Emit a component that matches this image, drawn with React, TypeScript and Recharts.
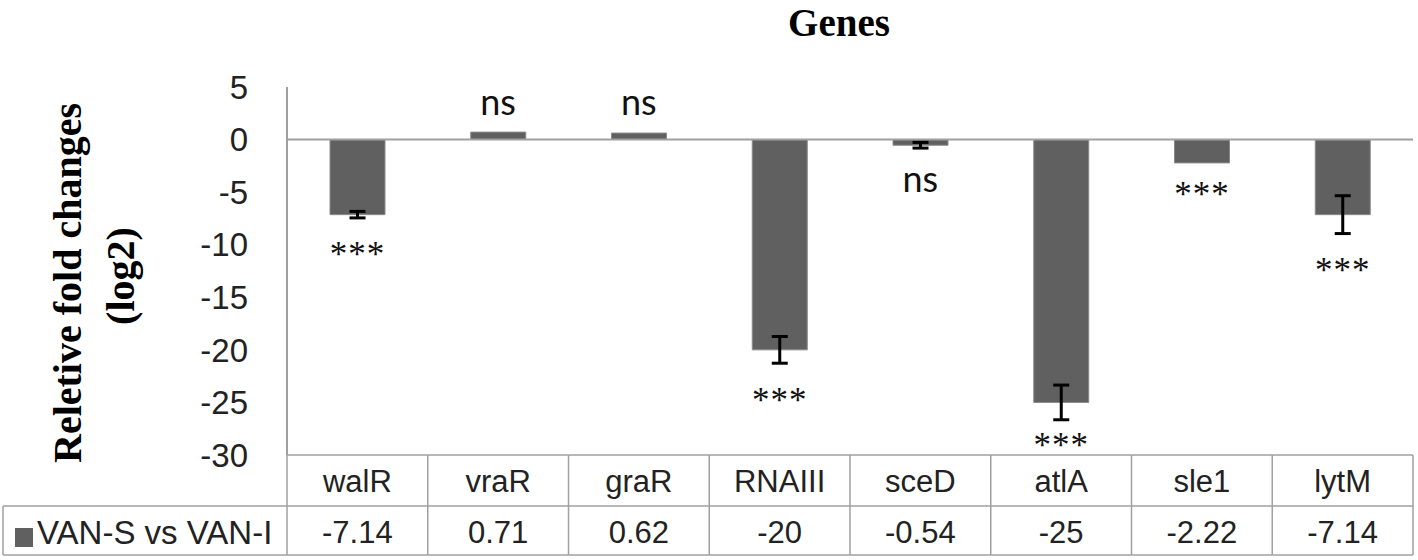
import { ComposedChart, Bar, Line, XAxis, YAxis, ErrorBar, LabelList, ReferenceLine, Customized } from 'recharts';

// gene expression, VAN-S vs VAN-I
const genes = ['walR', 'vraR', 'graR', 'RNAIII', 'sceD', 'atlA', 'sle1', 'lytM'];
const foldChange = [-7.14, 0.71, 0.62, -20, -0.54, -25, -2.22, -7.14];
const errors = [0.31, 0, 0, 1.27, 0.27, 1.65, 0, 1.8];
const sigLabels = ['***', 'ns', 'ns', '***', 'ns', '***', '***', '***'];
// where the significance marks sit (in axis units)
const sigAt = [-10.5, 3.24, 3.24, -24.4, -4.1, -28.65, -4.76, -12.06];
const yTicks = [5, 0, -5, -10, -15, -20, -25, -30];

const seriesName = 'VAN-S vs VAN-I';

const data = genes.map((g, i) => ({
  gene: g,
  value: foldChange[i],
  err: errors[i],
  sig: sigLabels[i],
  sigAt: sigAt[i],
}));

const W = 1418;
const H = 560;
const PLOT_LEFT = 287;
const PLOT_RIGHT = 1413;
const BAND = (PLOT_RIGHT - PLOT_LEFT) / genes.length;
const GRID = '#a0a0a0';
const BAR = '#606060';

const TableTick = (props: any) => {
  const { x, y, payload, index } = props;
  const half = BAND / 2;
  const left = x - half;
  const right = x + half;
  const mid = y + 51;
  const bottom = y + 100;
  return (
    <g>
      <line x1={left} y1={y} x2={right} y2={y} stroke={GRID} strokeWidth={1.5} />
      <line x1={left} y1={mid} x2={right} y2={mid} stroke={GRID} strokeWidth={1.5} />
      <line x1={left} y1={bottom} x2={right} y2={bottom} stroke={GRID} strokeWidth={1.5} />
      <line x1={right} y1={y} x2={right} y2={bottom} stroke={GRID} strokeWidth={1.5} />
      {index === 0 && (
        <g>
          <line x1={left} y1={y} x2={left} y2={bottom} stroke={GRID} strokeWidth={1.5} />
          <line x1={3} y1={mid} x2={left} y2={mid} stroke={GRID} strokeWidth={1.5} />
          <line x1={3} y1={bottom} x2={left} y2={bottom} stroke={GRID} strokeWidth={1.5} />
          <line x1={3} y1={mid} x2={3} y2={bottom} stroke={GRID} strokeWidth={1.5} />
          <rect x={15} y={mid + 22} width={18} height={19} fill={BAR} />
          <text x={37} y={mid + 26} dominantBaseline="central" fontFamily="'Liberation Sans', Arial" fontSize={33} fill="#222">
            {seriesName}
          </text>
        </g>
      )}
      <text x={x} y={y + 26} textAnchor="middle" dominantBaseline="central" fontFamily="'Liberation Sans', Arial" fontSize={31} fill="#222">
        {payload.value}
      </text>
      <text x={x} y={mid + 26} textAnchor="middle" dominantBaseline="central" fontFamily="'Liberation Sans', Arial" fontSize={31} fill="#222">
        {String(foldChange[index])}
      </text>
    </g>
  );
};

const renderSig = (props: any) => {
  const { x, y, value } = props;
  if (value === 'ns') {
    return (
      <text x={x} y={y + 9} textAnchor="middle" fontFamily="Lato, 'Open Sans', sans-serif" fontSize={36} fill="#111">
        {value}
      </text>
    );
  }
  return (
    <text x={x} y={y + 16} textAnchor="middle" fontFamily="'Liberation Serif', serif" fontSize={35} fill="#111" letterSpacing={1}>
      {value}
    </text>
  );
};

const yLabel = () => (
  <g fontFamily="'Liberation Serif', 'Times New Roman', serif" fontWeight="bold" fontSize={40} fill="#000">
    <text x={67} y={283} transform="rotate(-90 67 283)" textAnchor="middle" dominantBaseline="central">
      Reletive fold changes
    </text>
    <text x={120} y={276} transform="rotate(-90 120 276)" textAnchor="middle" dominantBaseline="central">
      (log2)
    </text>
  </g>
);

const Title = () => (
  <text x={839} y={22} textAnchor="middle" dominantBaseline="central" fontFamily="'Liberation Serif', 'Times New Roman', serif" fontWeight="bold" fontSize={39} fill="#000">
    Genes
  </text>
);

export default function App() {
  return (
    <div style={{ position: 'absolute', left: 0, top: 0, background: '#fff' }}>
      <ComposedChart width={W} height={H} data={data} margin={{ top: 87, right: W - PLOT_RIGHT, bottom: 5, left: 0 }}>
        <XAxis
          dataKey="gene"
          height={100}
          axisLine={false}
          tickLine={false}
          tickSize={0}
          tickMargin={0}
          interval={0}
          tick={<TableTick />}
        />
        <YAxis
          width={PLOT_LEFT}
          domain={[-30, 5]}
          ticks={yTicks}
          interval={0}
          tickLine={false}
          tickSize={0}
          tickMargin={39}
          axisLine={{ stroke: GRID, strokeWidth: 2 }}
          tick={{ fontFamily: "'Liberation Sans', Arial", fontSize: 33, fill: '#222' }}
          label={yLabel}
        />
        <ReferenceLine y={0} stroke={GRID} strokeWidth={2} />
        <Bar dataKey="value" name={seriesName} fill={BAR} stroke="#8a8a8a" strokeWidth={1} barSize={55} isAnimationActive={false}>
          <ErrorBar dataKey="err" width={8} stroke="#000" strokeWidth={3} />
        </Bar>
        <Line dataKey="sigAt" stroke="none" dot={false} activeDot={false} legendType="none" isAnimationActive={false}>
          <LabelList dataKey="sig" content={renderSig} />
        </Line>
        <Customized component={Title} />
      </ComposedChart>
    </div>
  );
}
